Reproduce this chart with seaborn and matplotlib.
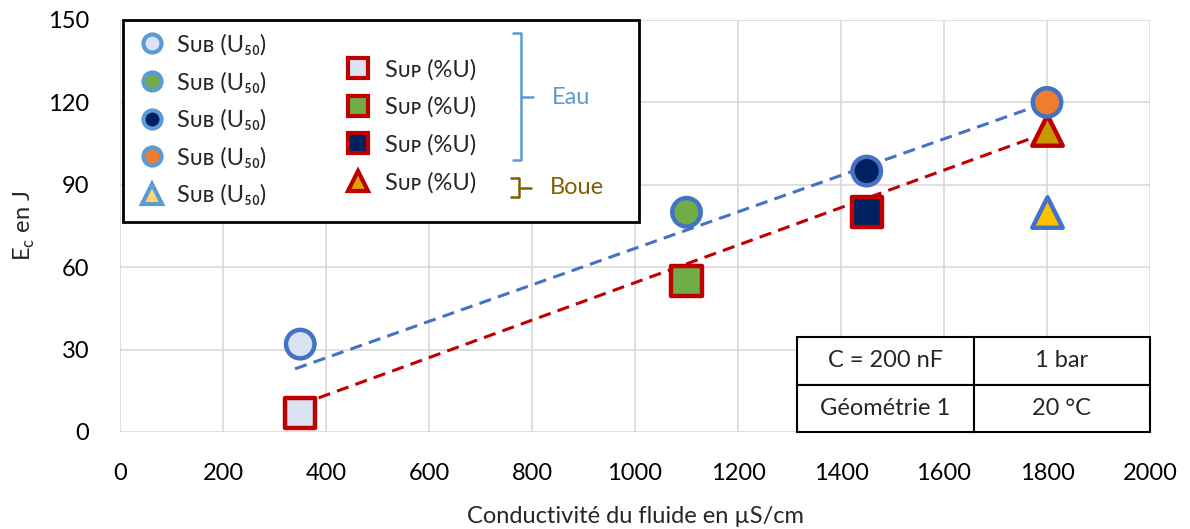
import numpy as np
import pandas as pd
import matplotlib
matplotlib.use("Agg")
import matplotlib.pyplot as plt
from matplotlib.lines import Line2D
from matplotlib.patches import Rectangle
import seaborn as sns

# --- data ---
sub_x = [350, 1100, 1450, 1800]
sub_y = [32, 80, 95, 120]
sub_fill = ["#DAE3F3", "#70AD47", "#002060", "#ED7D31"]
sub_boue_x = [1800]
sub_boue_y = [80]

sup_x = [350, 1100, 1450]
sup_y = [7, 55, 80]
sup_fill = ["#DAE3F3", "#70AD47", "#002060"]
sup_boue_x = [1800]
sup_boue_y = [110]

trend_sub_x = [340, 1800]
trend_sub_y = [23, 120]
trend_sup_x = [350, 1800]
trend_sup_y = [10, 109]

x_ticks = list(range(0, 2001, 200))
y_ticks = list(range(0, 151, 30))
table_rows = [["C = 200 nF", "1 bar"], ["Géométrie 1", "20 °C"]]

SUB_EDGE, SUP_EDGE = "#4472C4", "#C00000"
EAU_COL, BOUE_COL = "#5B9BD5", "#7F6000"
FONT = ["Lato", "DejaVu Sans"]

sns.set_theme(style="whitegrid")
plt.rcParams["font.family"] = FONT

fig = plt.figure(figsize=(11.9, 5.29), dpi=100)
ax = fig.add_axes([120 / 1190, 97 / 529, 1030 / 1190, 412 / 529])

# trend lines
sns.lineplot(x=trend_sub_x, y=trend_sub_y, ax=ax, color=SUB_EDGE, lw=2.2,
             dashes=False, zorder=2).lines[-1].set_dashes((4, 2.4))
sns.lineplot(x=trend_sup_x, y=trend_sup_y, ax=ax, color=SUP_EDGE, lw=2.2,
             dashes=False, zorder=2).lines[-1].set_dashes((4, 2.4))

sub_df = pd.DataFrame({"x": sub_x, "y": sub_y, "f": sub_fill})
sup_df = pd.DataFrame({"x": sup_x, "y": sup_y, "f": sup_fill})
sns.scatterplot(data=sub_df, x="x", y="y", hue="f", palette={c: c for c in sub_fill},
                marker="o", s=420, edgecolor=SUB_EDGE, linewidth=3.2, legend=False,
                ax=ax, zorder=4)
sns.scatterplot(x=sub_boue_x, y=sub_boue_y, color="#FFC000", marker="^", s=480,
                edgecolor=SUB_EDGE, linewidth=3.2, ax=ax, zorder=4)
sns.scatterplot(data=sup_df, x="x", y="y", hue="f", palette={c: c for c in sup_fill},
                marker="s", s=480, edgecolor=SUP_EDGE, linewidth=3.2, legend=False,
                ax=ax, zorder=3)
sns.scatterplot(x=sup_boue_x, y=sup_boue_y, color="#C89800", marker="^", s=480,
                edgecolor=SUP_EDGE, linewidth=3.2, ax=ax, zorder=3)

ax.set_xlim(0, 2000)
ax.set_ylim(0, 150)
ax.set_xticks(x_ticks)
ax.set_yticks(y_ticks)
ax.grid(True, color="#D9D9D9", lw=1.2)
for s in ax.spines.values():
    s.set_visible(False)
ax.tick_params(axis="both", labelsize=17, colors="black", length=0)
ax.tick_params(axis="y", pad=22)
ax.tick_params(axis="x", pad=22)
ax.set_xlabel("Conductivité du fluide en µS/cm", fontsize=17, labelpad=16)
ax.set_ylabel("E$_\\mathregular{c}$ en J", fontsize=17, labelpad=8)

# legend box
ax.add_patch(Rectangle((0.003, 0.51), 0.501, 0.49, transform=ax.transAxes,
                       fill=True, facecolor="white", edgecolor="black", lw=2,
                       zorder=6, clip_on=False))

sub_label = "Sᴜʙ (U₅₀)"
sup_label = "Sᴜᴘ (%U)"
h_sub = [Line2D([], [], ls="", marker="o", ms=13, mfc=c, mec=EAU_COL, mew=3)
         for c in ["#DAE3F3", "#70AD47", "#002060", "#ED7D31"]]
h_sub.append(Line2D([], [], ls="", marker="^", ms=14, mfc="#FFD966", mec=EAU_COL, mew=3))
h_sup = [Line2D([], [], ls="", marker="s", ms=14, mfc=c, mec=SUP_EDGE, mew=3)
         for c in ["#DAE3F3", "#70AD47", "#002060"]]
h_sup.append(Line2D([], [], ls="", marker="^", ms=14, mfc="#DDA000", mec=SUP_EDGE, mew=3))

leg1 = ax.legend(h_sub, [sub_label] * 5, loc="upper left", bbox_to_anchor=(0.005, 1.0),
                 frameon=False, fontsize=17, labelspacing=0.68, handletextpad=0.5,
                 borderaxespad=0.2, handlelength=1.1)
leg1.set_zorder(7)
ax.add_artist(leg1)
leg2 = ax.legend(h_sup, [sup_label] * 4, loc="upper left", bbox_to_anchor=(0.205, 0.94),
                 frameon=False, fontsize=17, labelspacing=0.68, handletextpad=0.6,
                 borderaxespad=0.2, handlelength=1.1)
leg2.set_zorder(7)

# brackets
def ax_xy(px, py):
    return (px - 120) / 1030, (432 - py) / 412

def bracket(x, y0, y1, ym, col, label, tx):
    pts = [ax_xy(x - 8, y0), ax_xy(x, y0), ax_xy(x, y1), ax_xy(x - 8, y1)]
    ax.add_line(Line2D([p[0] for p in pts], [p[1] for p in pts], transform=ax.transAxes,
                       color=col, lw=1.8, zorder=8))
    a, b = ax_xy(x, ym), ax_xy(x + 12, ym)
    ax.add_line(Line2D([a[0], b[0]], [a[1], b[1]], transform=ax.transAxes,
                       color=col, lw=1.8, zorder=8))
    t = ax_xy(tx, ym)
    ax.text(t[0], t[1], label, transform=ax.transAxes, color=col, fontsize=17,
            va="center", ha="left", zorder=8)

bracket(521, 33, 160, 97, EAU_COL, "Eau", 552)
bracket(519, 178, 197, 188, BOUE_COL, "Boue", 550)

# info table
tbl = ax.table(cellText=table_rows, cellLoc="center",
               bbox=[(797 - 120) / 1030, 0, (1150 - 797) / 1030, (432 - 337) / 412],
               zorder=6)
tbl.auto_set_font_size(False)
tbl.set_fontsize(17)
for cell in tbl.get_celld().values():
    cell.set_edgecolor("black")
    cell.set_linewidth(1.5)
    cell.set_facecolor("white")

fig.savefig("out.png", dpi=100)
